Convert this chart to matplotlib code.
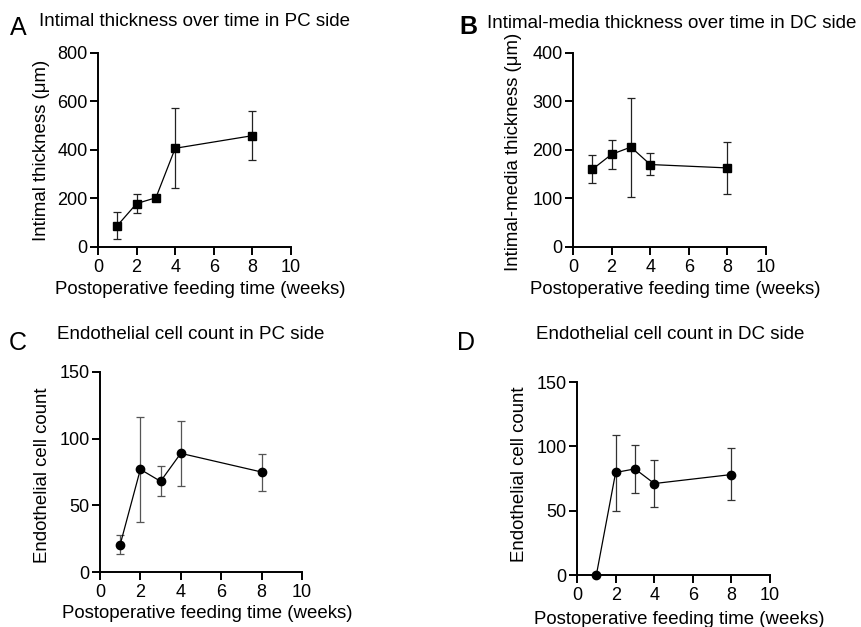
import matplotlib
matplotlib.use("Agg")
import matplotlib.pyplot as plt

plt.rcParams["font.family"] = ["Liberation Sans", "DejaVu Sans"]

weeks = [1, 2, 3, 4, 8]

# A: intimal thickness, PC side (um)
pc_thick = [88, 179, 203, 407, 459]
pc_thick_lo = [34, 141, 203, 244, 357]
pc_thick_hi = [143, 218, 203, 572, 561]

# B: intimal-media thickness, DC side (um)
dc_thick = [160, 191, 206, 170, 163]
dc_thick_lo = [132, 161, 104, 148, 109]
dc_thick_hi = [189, 221, 308, 193, 217]

# C: endothelial cell count, PC side
pc_cells = [20.5, 77, 68, 89, 75]
pc_cells_lo = [13.5, 37.5, 57, 64.5, 61]
pc_cells_hi = [27.5, 116, 79.5, 113.5, 88.5]

# D: endothelial cell count, DC side
dc_cells = [0, 79.7, 82.5, 71.1, 78.1]
dc_cells_lo = [0, 50, 64.1, 52.7, 58.1]
dc_cells_hi = [0, 108.7, 101.2, 89.5, 98.6]

xticks = [0, 2, 4, 6, 8, 10]
xlabel = "Postoperative feeding time (weeks)"


def draw_panel(fig, rect, y, lo, hi, marker, ymax, ystep, ylabel,
               ylab_x, ylab_y, xlab_y, ecolor):
    ax = fig.add_axes(rect)
    yerr = [[v - l for v, l in zip(y, lo)], [h - v for v, h in zip(y, hi)]]
    ax.errorbar(weeks, y, yerr=yerr, fmt="none", ecolor=ecolor,
                elinewidth=0.9, capsize=3, capthick=0.9, zorder=2)
    ms = 5.6 if marker == "s" else 6.0
    ax.plot(weeks, y, color="black", lw=0.9, marker=marker, ms=ms,
            mfc="black", mec="black", zorder=3, clip_on=False)
    ax.set_xlim(0, 10)
    ax.set_ylim(0, ymax)
    ax.set_xticks(xticks)
    ax.set_yticks(range(0, ymax + 1, ystep))
    for side in ("top", "right"):
        ax.spines[side].set_visible(False)
    for side in ("left", "bottom"):
        ax.spines[side].set_linewidth(1.4)
    ax.tick_params(width=1.4, length=6, labelsize=13)
    ax.tick_params(axis="x", pad=2.5)
    ax.tick_params(axis="y", pad=1.5)
    ax.set_xlabel(xlabel, fontsize=13.4)
    ax.set_ylabel(ylabel, fontsize=13.4)
    ax.xaxis.set_label_coords(0.53, xlab_y)
    ax.yaxis.set_label_coords(ylab_x, ylab_y)
    return ax


fig = plt.figure(figsize=(8.61, 6.27), dpi=100)

draw_panel(fig, [0.1138, 0.6061, 0.2242, 0.3094], pc_thick, pc_thick_lo, pc_thick_hi,
           "s", 800, 200, "Intimal thickness (\u03bcm)", -0.25, 0.5, -0.175, "#222222")
draw_panel(fig, [0.6655, 0.6061, 0.2242, 0.3094], dc_thick, dc_thick_lo, dc_thick_hi,
           "s", 400, 100, "Intimal-media thickness (\u03bcm)", -0.265, 0.49, -0.175, "#222222")
draw_panel(fig, [0.1161, 0.0877, 0.2346, 0.319], pc_cells, pc_cells_lo, pc_cells_hi,
           "o", 150, 50, "Endothelial cell count", -0.243, 0.485, -0.165, "#555555")
draw_panel(fig, [0.6702, 0.0829, 0.2242, 0.3078], dc_cells, dc_cells_lo, dc_cells_hi,
           "o", 150, 50, "Endothelial cell count", -0.255, 0.52, -0.185, "#333333")

# panel letters and titles
fig.text(0.011, 0.955, "A", fontsize=18, va="center")
fig.text(0.045, 0.965, "Intimal thickness over time in PC side", fontsize=13.5, va="center")
fig.text(0.533, 0.957, "B", fontsize=18, va="center", fontweight="bold")
fig.text(0.566, 0.963, "Intimal-media thickness over time in DC side", fontsize=13.5, va="center")
fig.text(0.010, 0.453, "C", fontsize=18, va="center")
fig.text(0.066, 0.466, "Endothelial cell count in PC side", fontsize=13.5, va="center")
fig.text(0.531, 0.453, "D", fontsize=18, va="center")
fig.text(0.623, 0.466, "Endothelial cell count in DC side", fontsize=13.5, va="center")

fig.savefig("out.png", dpi=100)
